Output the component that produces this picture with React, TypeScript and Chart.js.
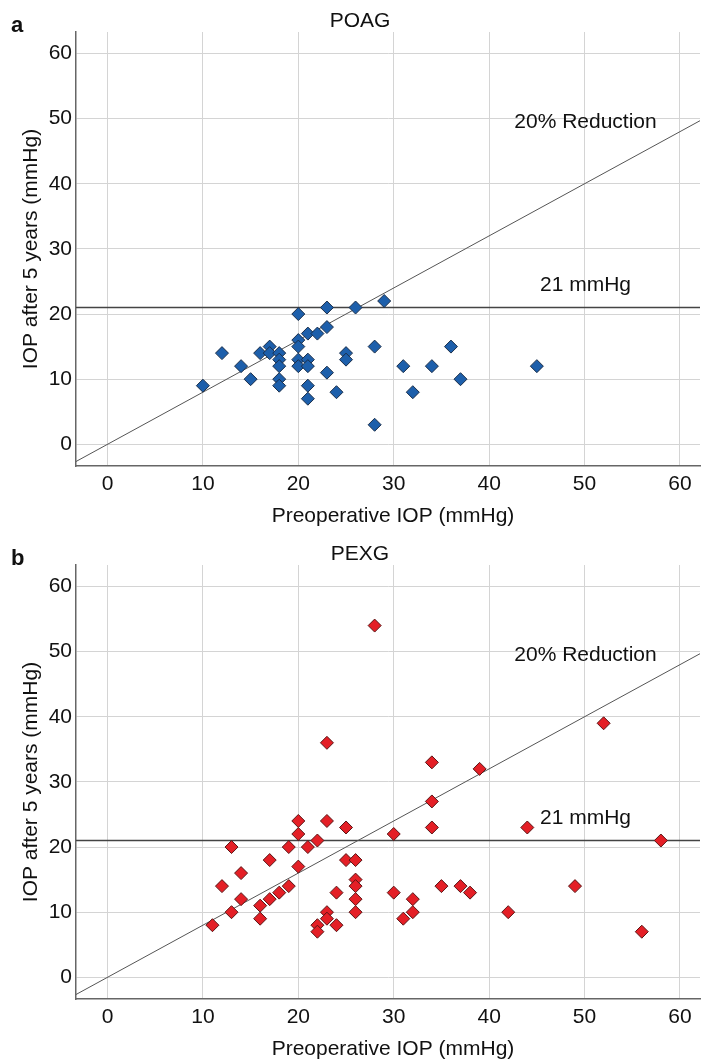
import { useEffect, useRef } from "react";
import { Chart, registerables } from "chart.js";
Chart.register(...registerables);

// ---- data ----
const TICKS = [0, 10, 20, 30, 40, 50, 60];
const X_MIN = -3.3;
const X_MAX = 62.1;
const Y_MIN = -3.33;
const Y_MAX = 63.3;
const REDUCTION_SLOPE = 0.8; // 20% reduction line
const THRESHOLD = 21; // 21 mmHg line

const poagPre = [10, 12, 14, 15, 16, 17, 17, 18, 18, 18, 18, 18, 20, 20, 20, 20, 20, 21, 21, 21, 21, 21, 22, 23, 23, 23, 24, 25, 25, 26, 28, 28, 29, 31, 32, 34, 36, 37, 45];
const poagPost = [9, 14, 12, 10, 14, 15, 14, 14, 13, 12, 10, 9, 20, 16, 15, 13, 12, 17, 13, 12, 9, 7, 17, 21, 18, 11, 8, 14, 13, 21, 15, 3, 22, 12, 8, 12, 15, 10, 12];

const pexgPre = [11, 12, 13, 13, 14, 14, 16, 16, 17, 17, 18, 19, 19, 20, 20, 20, 21, 22, 22, 22, 23, 23, 23, 23, 24, 24, 25, 25, 26, 26, 26, 26, 26, 28, 30, 30, 31, 32, 32, 34, 34, 34, 35, 37, 38, 39, 42, 44, 49, 52, 56, 58];
const pexgPost = [8, 14, 20, 10, 16, 12, 11, 9, 18, 12, 13, 20, 14, 24, 22, 17, 20, 21, 8, 7, 36, 24, 10, 9, 13, 8, 23, 18, 18, 15, 14, 12, 10, 54, 22, 13, 9, 12, 10, 33, 27, 23, 14, 14, 13, 32, 10, 23, 14, 39, 7, 21];

const X_TITLE = "Preoperative IOP (mmHg)";
const Y_TITLE = "IOP after 5 years (mmHg)";
const LABEL_REDUCTION = "20% Reduction";
const LABEL_THRESHOLD = "21 mmHg";
const LABEL_X = 50.1;
const LABEL_REDUCTION_Y = 48.6;
const LABEL_THRESHOLD_Y = 23.5;

const FONT = "'Liberation Sans', Arial, sans-serif";
const W = 701;

type PanelProps = {
  letter: string;
  title: string;
  pre: number[];
  post: number[];
  fill: string;
  stroke: string;
  top: number;
  height: number;
};

function Panel({ letter, title, pre, post, fill, stroke, top, height }: PanelProps) {
  const ref = useRef<HTMLCanvasElement | null>(null);
  useEffect(() => {
    if (!ref.current) return;
    const plotBottom = 466;
    const textPlugin = {
      id: "texts",
      afterDraw(chart: any) {
        const ctx = chart.ctx;
        const xs = chart.scales.x;
        const ys = chart.scales.y;
        ctx.save();
        ctx.fillStyle = "#111";
        ctx.textBaseline = "alphabetic";
        // panel letter
        ctx.font = `bold 22px ${FONT}`;
        ctx.textAlign = "left";
        ctx.fillText(letter, 11, 32);
        // title
        ctx.font = `21px ${FONT}`;
        ctx.textAlign = "center";
        ctx.fillText(title, 360, 27);
        // x title
        ctx.fillText(X_TITLE, 393, 522);
        // annotations
        ctx.fillText(LABEL_REDUCTION, xs.getPixelForValue(LABEL_X), ys.getPixelForValue(LABEL_REDUCTION_Y));
        ctx.fillText(LABEL_THRESHOLD, xs.getPixelForValue(LABEL_X), ys.getPixelForValue(LABEL_THRESHOLD_Y));
        // y title
        ctx.translate(31, (chart.chartArea.top + chart.chartArea.bottom) / 2);
        ctx.rotate(-Math.PI / 2);
        ctx.textBaseline = "middle";
        ctx.fillText(Y_TITLE, 0, 0);
        ctx.restore();
      },
    };
    const chart = new Chart(ref.current, {
      type: "scatter",
      data: {
        datasets: [
          {
            data: pre.map((v, i) => ({ x: v, y: post[i] })),
            pointStyle: "rectRot",
            pointRadius: 6.5,
            backgroundColor: fill,
            borderColor: stroke,
            borderWidth: 1,
            order: 0,
          },
          {
            data: [
              { x: X_MIN, y: X_MIN * REDUCTION_SLOPE },
              { x: X_MAX, y: X_MAX * REDUCTION_SLOPE },
            ],
            showLine: true,
            pointRadius: 0,
            borderColor: "#555",
            borderWidth: 1,
            order: 1,
          },
          {
            data: [
              { x: X_MIN, y: THRESHOLD },
              { x: X_MAX, y: THRESHOLD },
            ],
            showLine: true,
            pointRadius: 0,
            borderColor: "#444",
            borderWidth: 1.3,
            order: 2,
          },
        ],
      },
      options: {
        animation: false,
        responsive: false,
        layout: { autoPadding: false, padding: { top: 32, right: 1, left: 0, bottom: 0 } },
        plugins: { legend: { display: false }, tooltip: { enabled: false }, title: { display: false } },
        scales: {
          x: {
            type: "linear",
            min: X_MIN,
            max: X_MAX,
            afterBuildTicks: (s: any) => {
              s.ticks = TICKS.map((v) => ({ value: v }));
            },
            afterFit: (s: any) => {
              s.height = height - plotBottom;
              s.paddingLeft = 0;
              s.paddingRight = 0;
            },
            grid: { color: "#d4d4d4", lineWidth: 1, drawTicks: false },
            border: { display: true, color: "#666", width: 1.5 },
            ticks: { padding: 6, color: "#111", font: { family: FONT, size: 21 }, maxRotation: 0 },
          },
          y: {
            type: "linear",
            min: Y_MIN,
            max: Y_MAX,
            afterBuildTicks: (s: any) => {
              s.ticks = TICKS.map((v) => ({ value: v }));
            },
            afterFit: (s: any) => {
              s.width = 76;
              s.paddingTop = 0;
              s.paddingBottom = 0;
            },
            grid: { color: "#d4d4d4", lineWidth: 1, drawTicks: false },
            border: { display: true, color: "#666", width: 1.5 },
            ticks: { padding: 4, color: "#111", font: { family: FONT, size: 21 } },
          },
        },
      },
      plugins: [textPlugin],
    } as any);
    return () => chart.destroy();
  }, []);
  return (
    <canvas
      ref={ref}
      width={W}
      height={height}
      style={{ position: "absolute", left: 0, top, width: W, height }}
    />
  );
}

export default function App() {
  return (
    <div style={{ position: "absolute", left: 0, top: 0, width: W, height: 1063, background: "#fff" }}>
      <Panel letter="a" title="POAG" pre={poagPre} post={poagPost} fill="#1d5fab" stroke="#1b2f4a" top={0} height={533} />
      <Panel letter="b" title="PEXG" pre={pexgPre} post={pexgPost} fill="#e41f26" stroke="#5a1515" top={533} height={530} />
    </div>
  );
}
